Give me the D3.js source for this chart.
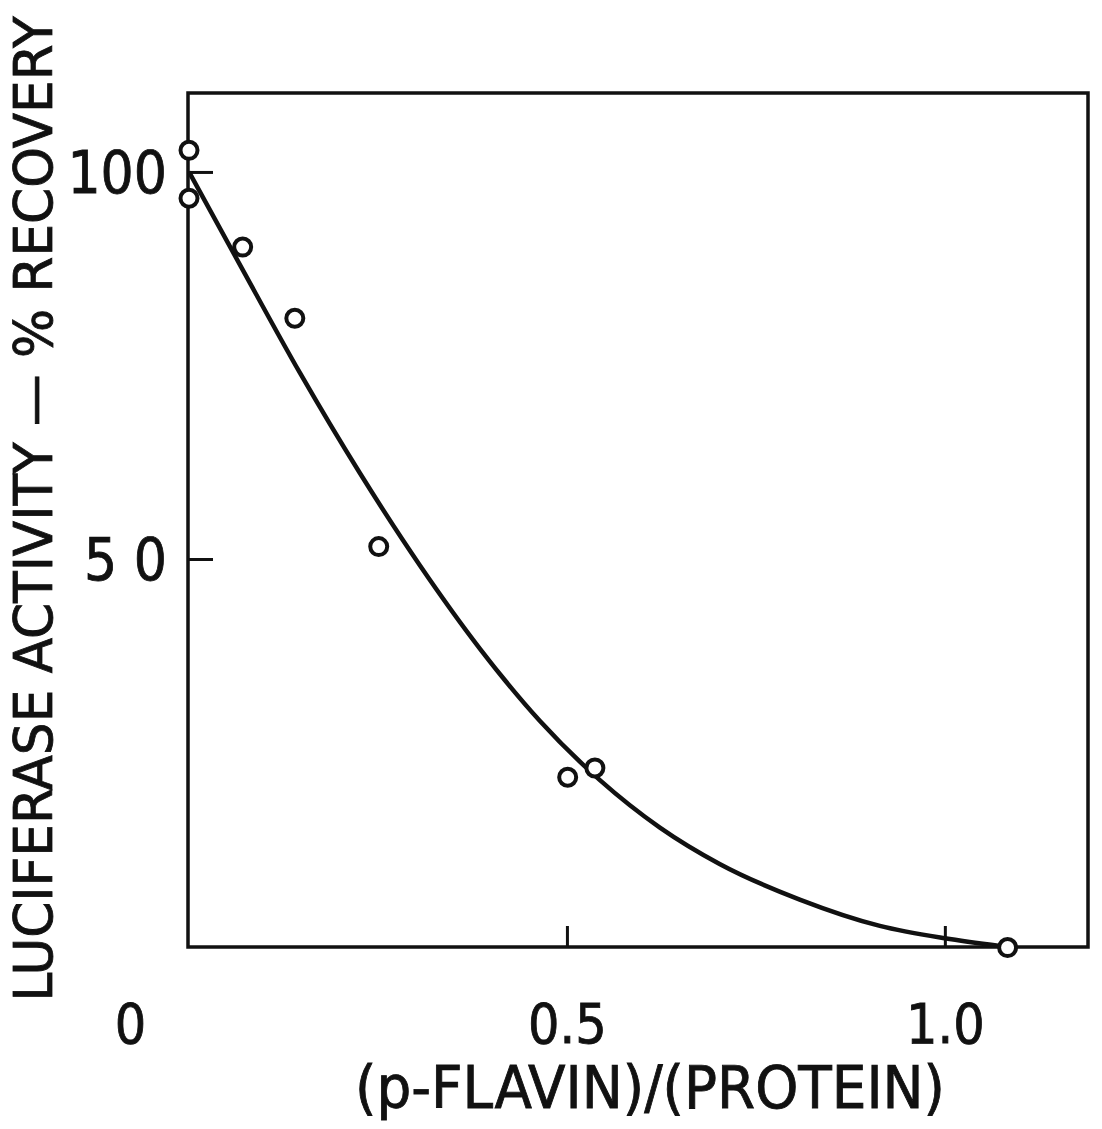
<!DOCTYPE html>
<html>
<head>
<meta charset="utf-8">
<script src="https://cdn.jsdelivr.net/npm/d3@7"></script>
<style>
body { margin: 0; background: #fff; }
svg text { font-family: "Liberation Sans Narrow", "DejaVu Sans Condensed", "Liberation Sans", sans-serif; fill: #111; stroke: #111; stroke-width: 0.8; }
</style>
</head>
<body>
<div class="chart"></div>
<script>
// Data ---------------------------------------------------------------------
const ratio = [0, 0, 0.071, 0.140, 0.251, 0.501, 0.537, 1.083];
const recovery = [102.8, 96.6, 90.3, 81.1, 51.6, 21.8, 23.0, -0.2];

// hand-drawn fit curve
const curveX = [0, 0.068, 0.147, 0.226, 0.306, 0.385, 0.464, 0.544, 0.623, 0.702, 0.808, 0.914, 1.0, 1.073];
const curveY = [100, 87.9, 74.0, 61.1, 49.1, 38.4, 29.1, 21.4, 15.3, 10.6, 6.0, 2.6, 1.0, 0];

const xTicks = [0, 0.5, 1.0];
const xTickLabels = ["0", "0.5", "1.0"];
const yTicks = [50, 100];
const yTickLabels = ["5 0", "100"];

// SVG Dimensions ---------------------------------------------------------------------
const width = 1102;
const height = 1129;
const margin = { top: 93, right: 9, bottom: 182, left: 189 };

const svg = d3.select(".chart")
  .append("svg")
  .attr("width", width)
  .attr("height", height);

// Scales ---------------------------------------------------------------------
const xScale = d3.scaleLinear()
  .domain([0, 1.196])
  .range([margin.left, width - margin.right]);

const yScale = d3.scaleLinear()
  .domain([0, 110.2])
  .range([height - margin.bottom - 1, margin.top]);

// Frame ---------------------------------------------------------------------
svg.append("rect")
  .attr("x", xScale(0) - 1)
  .attr("y", yScale(110.2))
  .attr("width", xScale(1.196) - xScale(0) - 4)
  .attr("height", yScale(0) - yScale(110.2) + 1)
  .attr("fill", "none")
  .attr("stroke", "#111")
  .attr("stroke-width", 3.5);

// Axes ---------------------------------------------------------------------
const yAxis = d3.axisLeft(yScale)
  .tickValues(yTicks)
  .tickSize(-24)
  .tickPadding(22)
  .tickFormat((d, i) => yTickLabels[i]);

const gy = svg.append("g")
  .attr("transform", `translate(${xScale(0)},0)`)
  .call(yAxis);
gy.select(".domain").remove();
gy.selectAll("line").attr("stroke", "#111").attr("stroke-width", 3);
gy.selectAll("text")
  .attr("font-size", 58)
  .attr("dy", "0.36em")
  .style("font-family", null);

const xAxis = d3.axisBottom(xScale)
  .tickValues(xTicks)
  .tickSize(-20)
  .tickPadding(54)
  .tickFormat((d, i) => xTickLabels[i]);

const gx = svg.append("g")
  .attr("transform", `translate(0,${yScale(0)})`)
  .call(xAxis);
gx.select(".domain").remove();
gx.selectAll("line").attr("stroke", "#111").attr("stroke-width", 3);
gx.selectAll("text")
  .attr("font-size", 55)
  .attr("dy", "0.71em")
  .attr("y", 58);
// the "0" label sits well left of the axis corner
gx.selectAll(".tick").filter(d => d === 0).select("text").attr("x", -59);
gx.selectAll(".tick").filter(d => d === 0).select("line").remove();

// Axis titles ---------------------------------------------------------------------
svg.append("text")
  .attr("transform", "translate(52,509) rotate(-90)")
  .attr("text-anchor", "middle")
  .attr("font-size", 54)
  .attr("textLength", 985)
  .attr("lengthAdjust", "spacingAndGlyphs")
  .text("LUCIFERASE ACTIVITY \u2014 % RECOVERY");

svg.append("text")
  .attr("x", 650)
  .attr("y", 1108)
  .attr("text-anchor", "middle")
  .attr("font-size", 58)
  .attr("textLength", 590)
  .attr("lengthAdjust", "spacingAndGlyphs")
  .text("(p-FLAVIN)/(PROTEIN)");

// Curve ---------------------------------------------------------------------
const line = d3.line()
  .x(d => xScale(d[0]))
  .y(d => yScale(d[1]))
  .curve(d3.curveMonotoneX);

svg.append("path")
  .datum(d3.zip(curveX, curveY))
  .attr("d", line)
  .attr("fill", "none")
  .attr("stroke", "#111")
  .attr("stroke-width", 4.5);

// Points ---------------------------------------------------------------------
svg.selectAll(".pt")
  .data(d3.zip(ratio, recovery))
  .join("circle")
  .attr("class", "pt")
  .attr("cx", d => xScale(d[0]))
  .attr("cy", d => yScale(d[1]))
  .attr("r", 8.5)
  .attr("fill", "#fff")
  .attr("stroke", "#111")
  .attr("stroke-width", 4);
</script>
</body>
</html>
